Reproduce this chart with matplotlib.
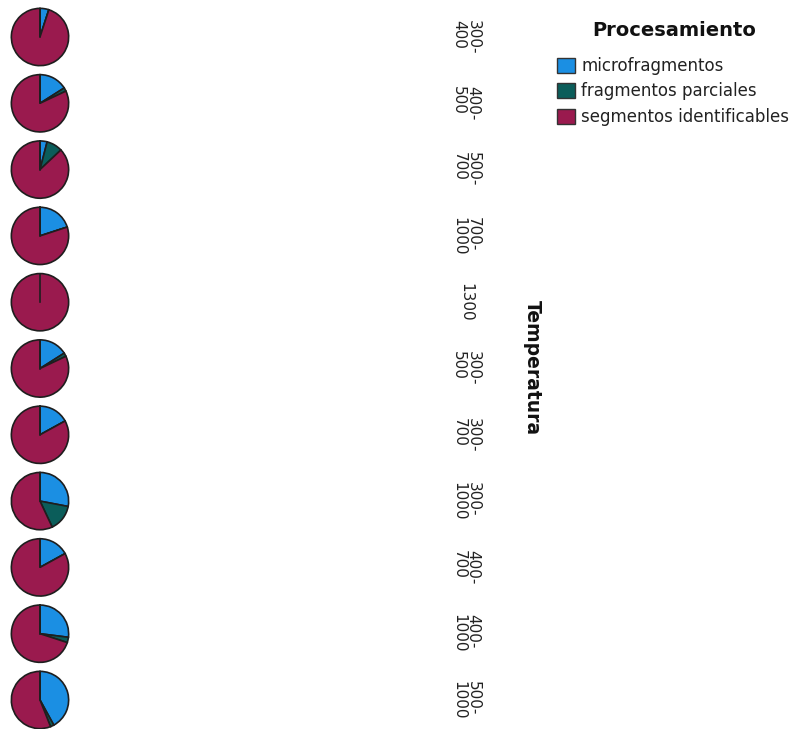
import matplotlib
matplotlib.use("Agg")
import numpy as np
import matplotlib.pyplot as plt
from matplotlib.patches import Patch

plt.rcParams['font.family'] = ['DejaVu Sans']

categories = ["300-\n400", "400-\n500", "500-\n700", "700-\n1000", "1300",
              "300-\n500", "300-\n700", "300-\n1000", "400-\n700", "400-\n1000", "500-\n1000"]
series_names = ["microfragmentos", "fragmentos parciales", "segmentos identificables"]
microfragmentos = [5, 16, 4, 20, 0, 16, 17, 28, 17, 27, 42]
fragmentos_parciales = [0, 2, 9, 0, 0, 2, 0, 15, 0, 3, 2]
segmentos_identificables = [95, 82, 87, 80, 100, 82, 83, 57, 83, 70, 56]
colors = ["#1b8fe3", "#0b5d5a", "#9a1a4e"]

W, H = 796, 729
fig = plt.figure(figsize=(W / 100, H / 100), dpi=100)

r = 29.5
x_center = 40
y_first = 37
y_step = 66.3
label_x = 466
start = 90

for i, cat in enumerate(categories):
    yc = y_first + i * y_step
    ax = fig.add_axes([(x_center - r) / W, 1 - (yc + r) / H, 2 * r / W, 2 * r / H])
    vals = [microfragmentos[i], fragmentos_parciales[i], segmentos_identificables[i]]
    ax.pie(vals, colors=colors, startangle=start, counterclock=False,
           wedgeprops=dict(edgecolor="#1e1e1e", linewidth=1.2))
    # radial edge at the start angle (visible even when the first slices are empty)
    a = np.deg2rad(start)
    ax.plot([0, np.cos(a)], [0, np.sin(a)], color="#1e1e1e", linewidth=1.2)
    ax.set_xlim(-1.03, 1.03)
    ax.set_ylim(-1.03, 1.03)
    ax.set_aspect('equal')
    ax.axis('off')
    fig.text(label_x / W, 1 - yc / H, cat, rotation=-90, ha='center', va='center',
             fontsize=11, linespacing=0.95, color="#222222", multialignment='left')

fig.text(532 / W, 1 - 368 / H, "Temperatura", rotation=-90, ha='center', va='center',
         fontsize=13.5, fontweight='bold', color="#111111")

fig.text(674 / W, 1 - 31 / H, "Procesamiento", ha='center', va='center',
         fontsize=14, fontweight='bold', color="#111111")

handles = [Patch(facecolor=c, edgecolor="#333333", linewidth=1.0) for c in colors]
leg = fig.legend(handles, series_names, loc='upper left',
                 bbox_to_anchor=(557 / W, 1 - 57 / H), frameon=False,
                 fontsize=12, handlelength=1.05, handleheight=1.0, handletextpad=0.4,
                 labelspacing=0.45, borderpad=0.0, borderaxespad=0.0)
for t in leg.get_texts():
    t.set_color("#222222")

fig.savefig("out.png", dpi=100)
